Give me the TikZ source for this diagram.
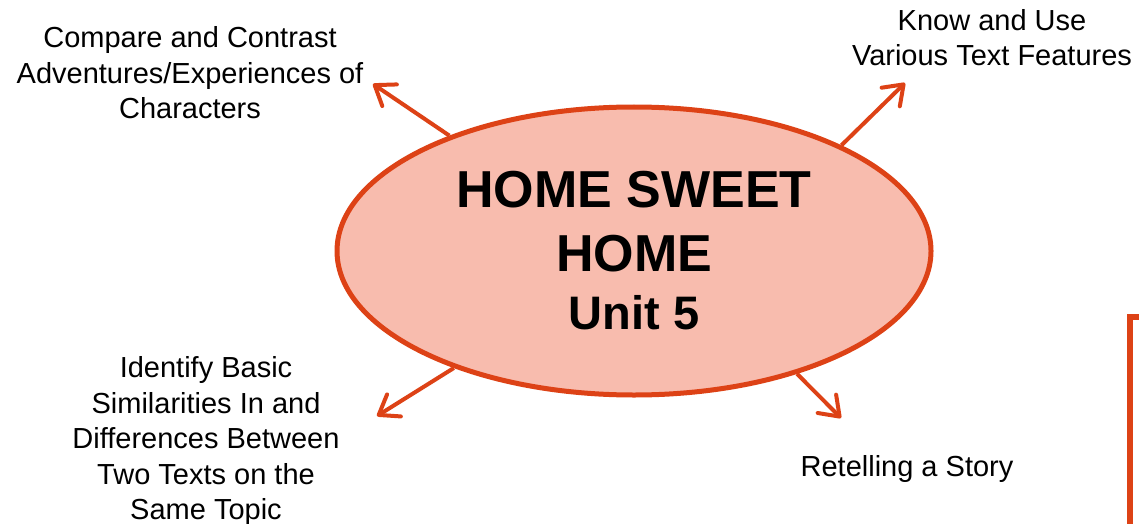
\documentclass[tikz,border=0pt]{standalone}
\usepackage{fontspec}
\setmainfont{Liberation Sans}
\usetikzlibrary{arrows.meta,shapes.geometric}
\definecolor{unitred}{RGB}{221,66,22}
\definecolor{unitfill}{RGB}{248,188,174}
\tikzset{
	goal/.style={align=center, inner sep=0pt, font=\fontsize{29}{35.5}\selectfont},
	spoke/.style={unitred, line width=4pt, -{Straight Barb[length=18pt,width=26pt,line width=4pt,round]}}
}

\begin{document}
\begin{tikzpicture}[x=1pt,y=-1pt]
			%%%%% START %%%%%
			
			\useasboundingbox (0, 0) rectangle (1139, 524);
			
			\node[ellipse, draw=unitred, fill=unitfill, line width=5pt, minimum width=594pt, minimum height=288pt, inner sep=0pt, align=center, font=\fontsize{52}{64}\selectfont\bfseries] (unit) at (634, 251) {HOME SWEET\\HOME\\[-6pt]{\fontsize{47}{58}\selectfont Unit 5}};
			
			\node[goal] (compare) at (190, 73) {Compare and Contrast\\Adventures/Experiences of\\Characters};
			\node[goal] (features) at (992, 37.5) {Know and Use\\Various Text Features};
			\node[goal] (identify) at (206, 441) {Identify Basic\\Similarities In and\\Differences Between\\Two Texts on the\\Same Topic};
			\node[goal] (retell) at (907, 469) {Retelling a Story};
			
			\coordinate (tipcompare) at (373, 84);
			\coordinate (tipfeatures) at (905, 83);
			\coordinate (tipidentify) at (377, 416);
			\coordinate (tipretell) at (841, 418);
			
			\draw[spoke] (unit.148) -- (tipcompare);
			\draw[spoke] (unit.27.4) -- (tipfeatures);
			\draw[spoke] (unit.213.9) -- (tipidentify);
			\draw[spoke] (unit.323.2) -- (tipretell);
			
			\draw[unitred, line width=6pt, miter limit=10] (1130, 524) -- (1130, 317) -- (1139, 317);
			
			%%%%% END %%%%%
		\end{tikzpicture}
\end{document}
